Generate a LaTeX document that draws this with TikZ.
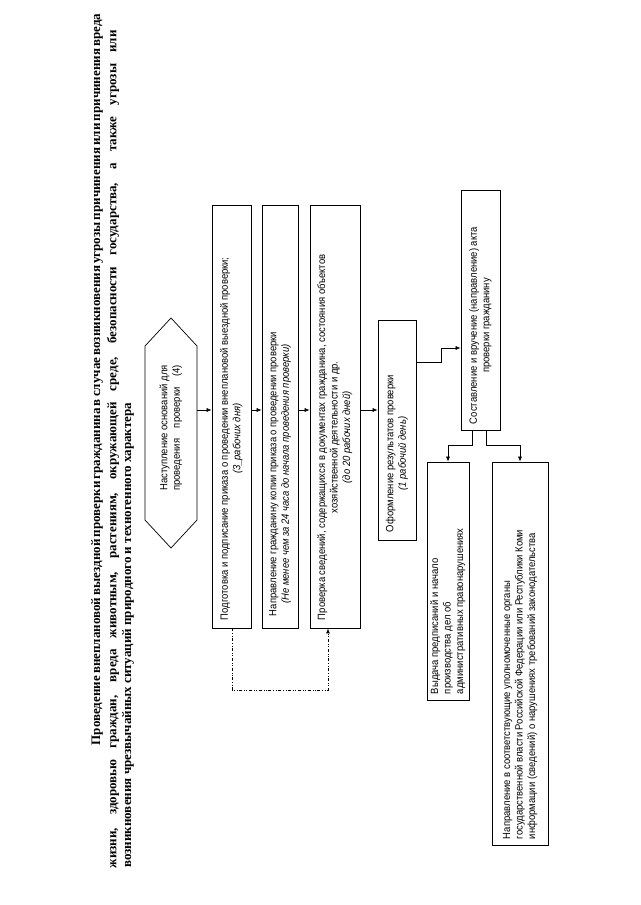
\documentclass[tikz,border=0pt]{standalone}
\usepackage{fontspec}
\usepackage{calc}
\setmainfont{Liberation Serif}
\newfontfamily\boxfont[FakeStretch=0.9]{Liberation Sans}
\usetikzlibrary{arrows.meta}
\newcommand{\rtext}[3]{\rotatebox{90}{\makebox[#1][l]{\hspace{#2}#3}}}
\begin{document}
\begin{tikzpicture}[x=1pt,y=-1pt,
  flowbox/.style={draw, line width=0.7pt, inner sep=0pt, font=\boxfont\fontsize{10.5}{12.5}\selectfont},
  flowarrow/.style={-{Latex[length=5pt,width=4pt]}, line width=0.6pt},
  loopline/.style={dash dot dot, line width=0.8pt},
  titleline/.style={rotate=90, inner sep=0pt, font=\bfseries\fontsize{13}{15}\selectfont}]
\useasboundingbox[fill=white] (0,0) rectangle (640,905);

% title
\node[titleline, anchor=east] (t1) at (97,30) {\makebox[715pt][s]{Проведение внеплановой выездной проверки гражданина в случае возникновения угрозы причинения или причинения вреда}};
\node[titleline, anchor=east] (t2) at (113,30) {\makebox[838pt][s]{жизни, здоровью граждан, вреда животным, растениям, окружающей среде, безопасности государства, а также угрозы или}};
\node[titleline, anchor=west] (t3) at (128,868) {возникновения чрезвычайных ситуаций природного и техногенного характера};

% hexagon
\coordinate (h1) at (171,318);
\coordinate (h2) at (197,346);
\coordinate (h3) at (197,520);
\coordinate (h4) at (171,548);
\coordinate (h5) at (145,520);
\coordinate (h6) at (145,346);
\draw[line width=0.7pt] (h1) -- (h2) -- (h3) -- (h4) -- (h5) -- (h6) -- cycle;
\node[inner sep=0pt, font=\boxfont\fontsize{10.5}{12.5}\selectfont] (hex) at (171,428) {\rotatebox{90}{\begin{tabular}{@{}l@{}}Наступление оснований для\\ \makebox[\widthof{Наступление оснований для}][s]{проведения проверки (4)}\end{tabular}}};
\coordinate (hexr) at (197,410);

% main boxes
\node[flowbox, minimum width=39pt, minimum height=423pt] (b1) at (231.5,416.5) {\rtext{423pt}{8pt}{\begin{tabular}{@{}c@{}}Подготовка и подписание приказа о проведении внеплановой выездной проверки;\\ \textit{(3\_рабочих дня)}\end{tabular}}};
\node[flowbox, minimum width=36pt, minimum height=423pt] (b2) at (280,416.5) {\rtext{423pt}{12pt}{\begin{tabular}{@{}c@{}}Направление гражданину копии приказа о проведении проверки\\ \textit{(Не менее чем за 24 часа до начала проведения проверки)}\end{tabular}}};
\node[flowbox, minimum width=50pt, minimum height=423pt] (b3) at (335,416.5) {\rtext{423pt}{8pt}{\begin{tabular}{@{}c@{}}Проверка сведений, содержащихся в документах гражданина, состояния объектов\\ хозяйственной деятельности и др.\\ \textit{(до 20 рабочих дней)}\end{tabular}}};
\node[flowbox, minimum width=38pt, minimum height=220pt] (b4) at (397,430) {\rtext{220pt}{8pt}{\begin{tabular}{@{}c@{}}Оформление результатов проверки\\ \textit{(1 рабочий день)}\end{tabular}}};
\node[flowbox, minimum width=39pt, minimum height=240pt] (b5) at (480.5,310) {\rtext{240pt}{6pt}{\begin{tabular}{@{}c@{}}Составление и вручение (направление) акта\\ проверки гражданину\end{tabular}}};
\node[flowbox, minimum width=42pt, minimum height=238pt] (b6) at (448,581) {\rtext{238pt}{6pt}{\begin{tabular}{@{}l@{}}Выдача предписаний и начало\\ производства дел об\\ административных правонарушениях\end{tabular}}};
\node[flowbox, minimum width=56pt, minimum height=383pt] (b7) at (520,653.5) {\rtext{383pt}{6pt}{\begin{tabular}{@{}l@{}}Направление в соответствующие уполномоченные органы\\ государственной власти Российской Федерации или Республики Коми\\ информации (сведений) о нарушениях требований законодательства\end{tabular}}};

% connectors
\draw[flowarrow] (hexr) -- (hexr -| b1.west);
\draw[flowarrow] (b1.east |- hexr) -- (b2.west |- hexr);
\draw[flowarrow] (b2.east |- hexr) -- (b3.west |- hexr);
\draw[flowarrow] (b3.east |- hexr) -- (b4.west |- hexr);
\coordinate (c4a) at (441,362);
\coordinate (c4b) at (441,348);
\draw[flowarrow] (b4.east |- c4a) -- (c4a) -- (c4b) -- (b5.west |- c4b);
\coordinate (c5a) at (472,445);
\coordinate (c5b) at (486,445);
\draw[flowarrow] (b5.south -| c5a) -- (c5a) -- (b6.north |- c5a) -- (b6.north);
\draw[flowarrow] (b5.south -| c5b) -- (c5b) -- (c5b -| b7.north) -- (b7.north);
% dash-dot loop
\coordinate (l1) at (232,690);
\coordinate (l2) at (328,690);
\draw[loopline, -{Latex[length=5pt,width=4pt]}] (b1.south -| l1) -- (l1) -- (l2) -- (b3.south -| l2);
\end{tikzpicture}
\end{document}
